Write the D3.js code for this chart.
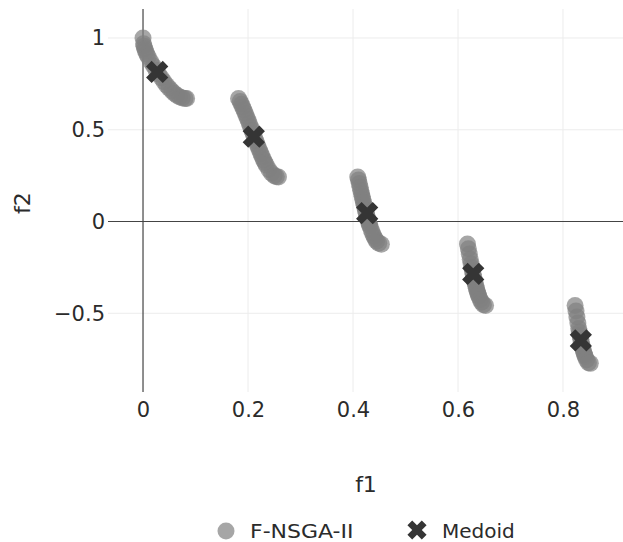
<!DOCTYPE html>
<html>
<head>
<meta charset="utf-8">
<script src="https://cdn.jsdelivr.net/npm/d3@7"></script>
<style>
    body { margin: 0; background: #fff; }
    svg { display: block; font-family: "DejaVu Sans", Verdana, sans-serif; }
</style>
</head>
<body>
<svg width="623" height="542"></svg>
<script>
// Pareto front points, one line per front piece
let paretoF1 = [
    0, 0.001, 0.002, 0.0035, 0.005, 0.0075, 0.01, 0.015, 0.02, 0.025, 0.03, 0.035, 0.04, 0.045, 0.05, 0.055, 0.06, 0.065, 0.07, 0.075, 0.08, 0.083,
    0.182, 0.185, 0.1875, 0.19, 0.1925, 0.195, 0.1975, 0.2, 0.2025, 0.205, 0.2075, 0.21, 0.2125, 0.215, 0.2175, 0.22, 0.2225, 0.225, 0.2275, 0.23, 0.2325, 0.235, 0.24, 0.245, 0.25, 0.254, 0.258,
    0.409, 0.4105, 0.412, 0.4135, 0.415, 0.4163, 0.4175, 0.4188, 0.42, 0.4213, 0.4225, 0.4238, 0.425, 0.4263, 0.4275, 0.4288, 0.43, 0.4313, 0.4325, 0.435, 0.4375, 0.44, 0.4425, 0.445, 0.449, 0.454,
    0.618, 0.6198, 0.6215, 0.6233, 0.625, 0.6263, 0.6275, 0.6288, 0.63, 0.6313, 0.6325, 0.6338, 0.635, 0.6363, 0.6375, 0.6388, 0.64, 0.6425, 0.645, 0.6485, 0.6525,
    0.823, 0.8248, 0.8265, 0.8283, 0.83, 0.8313, 0.8325, 0.8338, 0.835, 0.8363, 0.8375, 0.8388, 0.84, 0.8413, 0.8425, 0.845, 0.8485, 0.852
];
let paretoF2 = [
    1.0, 0.968, 0.955, 0.940, 0.928, 0.912, 0.897, 0.871, 0.847, 0.824, 0.803, 0.782, 0.762, 0.743, 0.726, 0.711, 0.698, 0.687, 0.679, 0.673, 0.670, 0.670,
    0.670, 0.654, 0.639, 0.623, 0.606, 0.589, 0.571, 0.553, 0.534, 0.515, 0.496, 0.477, 0.458, 0.439, 0.420, 0.402, 0.384, 0.367, 0.350, 0.334, 0.320, 0.306, 0.282, 0.263, 0.250, 0.244, 0.242,
    0.242, 0.226, 0.207, 0.187, 0.168, 0.151, 0.136, 0.120, 0.105, 0.090, 0.076, 0.061, 0.048, 0.034, 0.021, 0.008, -0.004, -0.016, -0.026, -0.047, -0.066, -0.082, -0.095, -0.107, -0.119, -0.124,
    -0.123, -0.149, -0.177, -0.206, -0.232, -0.252, -0.269, -0.287, -0.303, -0.320, -0.335, -0.349, -0.363, -0.376, -0.388, -0.399, -0.409, -0.426, -0.440, -0.453, -0.458,
    -0.458, -0.488, -0.520, -0.553, -0.583, -0.604, -0.622, -0.641, -0.658, -0.674, -0.689, -0.703, -0.715, -0.727, -0.737, -0.754, -0.769, -0.773
];
let medoidF1 = [0.027, 0.211, 0.427, 0.629, 0.834];
let medoidF2 = [0.815, 0.462, 0.046, -0.285, -0.648];

let xTicks = [0, 0.2, 0.4, 0.6, 0.8];
let yTicks = [-0.5, 0, 0.5, 1];
let seriesNames = ["F-NSGA-II", "Medoid"];

let svg = d3.select("svg");
let plot = { left: 108, right: 623, top: 9, bottom: 392 };

let x = d3.scaleLinear().domain([-0.0667, 0.9143]).range([plot.left, plot.right]);
let y = d3.scaleLinear().domain([-0.929, 1.158]).range([plot.bottom, plot.top]);

let textColor = "#2b2b2b";
let pointColor = "#808080";
let medoidColor = "#353535";

// Grid
let grid = svg.append("g").attr("class", "grid");
grid.selectAll("line.vx")
    .data(xTicks.filter(d => d != 0))
    .join("line")
    .attr("x1", d => x(d)).attr("x2", d => x(d))
    .attr("y1", plot.top).attr("y2", plot.bottom)
    .attr("stroke", "#ececec").attr("stroke-width", 1);
grid.selectAll("line.hy")
    .data(yTicks.filter(d => d != 0))
    .join("line")
    .attr("x1", plot.left).attr("x2", plot.right)
    .attr("y1", d => y(d)).attr("y2", d => y(d))
    .attr("stroke", "#ececec").attr("stroke-width", 1);

// Zero lines
let zero = svg.append("g").attr("class", "zerolines");
zero.append("line")
    .attr("x1", x(0)).attr("x2", x(0))
    .attr("y1", plot.top).attr("y2", plot.bottom)
    .attr("stroke", "#444").attr("stroke-width", 1.2);
zero.append("line")
    .attr("x1", plot.left).attr("x2", plot.right)
    .attr("y1", y(0)).attr("y2", y(0))
    .attr("stroke", "#444").attr("stroke-width", 1.2);

// Axes via d3 axis, domain and ticks hidden
let xAxis = svg.append("g")
    .attr("transform", `translate(0,${plot.bottom})`)
    .call(d3.axisBottom(x).tickValues(xTicks).tickSize(0).tickPadding(10).tickFormat(d3.format("~g")));
let yAxis = svg.append("g")
    .attr("transform", `translate(${plot.left},0)`)
    .call(d3.axisLeft(y).tickValues(yTicks).tickSize(0).tickPadding(3).tickFormat(d3.format("~g")));
[xAxis, yAxis].forEach(a => {
    a.select(".domain").remove();
    a.selectAll("text")
        .attr("font-family", "DejaVu Sans, Verdana, sans-serif")
        .attr("font-size", 21)
        .attr("fill", textColor);
});

// Pareto points
let points = paretoF1.map((d, i) => ({ f1: d, f2: paretoF2[i] }));
svg.append("g").attr("class", "points")
    .selectAll("circle")
    .data(points)
    .join("circle")
    .attr("cx", d => x(d.f1))
    .attr("cy", d => y(d.f2))
    .attr("r", 8.5)
    .attr("fill", pointColor)
    .attr("fill-opacity", 0.7);

// Medoids
let medoids = medoidF1.map((d, i) => ({ f1: d, f2: medoidF2[i] }));
let xSymbol = d3.symbol().type(d3.symbolCross).size(310);
svg.append("g").attr("class", "medoids")
    .selectAll("path")
    .data(medoids)
    .join("path")
    .attr("d", xSymbol)
    .attr("transform", d => `translate(${x(d.f1)},${y(d.f2)}) rotate(45)`)
    .attr("fill", medoidColor);

// Axis titles
svg.append("text")
    .attr("x", 366).attr("y", 492)
    .attr("text-anchor", "middle")
    .attr("font-size", 22)
    .attr("fill", textColor)
    .text("f1");
svg.append("text")
    .attr("transform", "translate(30,203) rotate(-90)")
    .attr("text-anchor", "middle")
    .attr("font-size", 22)
    .attr("fill", textColor)
    .text("f2");

// Legend
let legend = svg.append("g").attr("class", "legend");
legend.append("circle")
    .attr("cx", 226).attr("cy", 531).attr("r", 8.5)
    .attr("fill", pointColor).attr("fill-opacity", 0.7);
legend.append("text")
    .attr("x", 250).attr("y", 538)
    .attr("font-size", 20)
    .attr("fill", textColor)
    .attr("transform", "translate(250,0) scale(1.1,1) translate(-250,0)")
    .text(seriesNames[0]);
legend.append("path")
    .attr("d", d3.symbol().type(d3.symbolCross).size(230))
    .attr("transform", "translate(417,530) rotate(45)")
    .attr("fill", medoidColor);
legend.append("text")
    .attr("x", 442).attr("y", 538)
    .attr("font-size", 20)
    .attr("fill", textColor)
    .text(seriesNames[1]);
</script>
</body>
</html>
